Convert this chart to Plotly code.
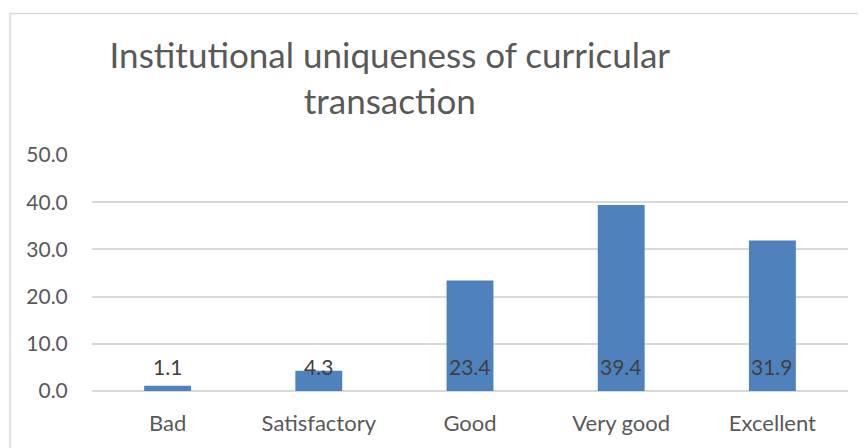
import plotly.graph_objects as go

categories = ["Bad", "Satisfactory", "Good", "Very good", "Excellent"]
values = [1.1, 4.3, 23.4, 39.4, 31.9]
y_ticks = [0, 10, 20, 30, 40, 50]
y_tick_labels = ["0.0", "10.0", "20.0", "30.0", "40.0", "50.0"]

font_family = "Lato, 'Open Sans', sans-serif"
text_color = "#595959"

fig = go.Figure(go.Bar(x=categories, y=values, width=0.31, marker=dict(color="#4F81BD", line=dict(width=0)),
                       showlegend=False, hoverinfo="x+y"))

# data labels all sit at the same height near the base, like the original
for cat, val in zip(categories, values):
    fig.add_annotation(x=cat, y=0, text=f"{val:.1f}", showarrow=False, yanchor="middle", yshift=25,
                       font=dict(family=font_family, size=21, color="#404040"))

# outer chart frame
fig.add_shape(type="rect", xref="paper", yref="paper", x0=-0.1085, x1=1.0185, y0=-0.4, y1=1.6,
              line=dict(color="#D9D9D9", width=1.5), fillcolor="rgba(0,0,0,0)", layer="below")

# page body has an 8px margin, so the figure is a little smaller and margins are shifted
fig.update_layout(
    width=858, height=440,
    margin=dict(l=84, r=18, t=147, b=57),
    paper_bgcolor="white", plot_bgcolor="white",
    title=dict(text="Institutional uniqueness of curricular<br>transaction", xref="container", x=0.445,
               xanchor="center", yref="container", y=1 - 60 / 440, yanchor="top",
               font=dict(family=font_family, size=35, color=text_color)),
    xaxis=dict(showgrid=False, showline=False, ticks="outside", ticklen=13, tickcolor="white",
               tickfont=dict(family=font_family, size=22, color=text_color)),
    yaxis=dict(range=[0, 50], tickvals=y_ticks, ticktext=y_tick_labels, showgrid=True, gridcolor="#D9D9D9",
               gridwidth=1.5, zeroline=True, zerolinecolor="#D9D9D9", zerolinewidth=1.5, showline=False,
               ticks="outside", ticklen=19, tickcolor="white",
               tickfont=dict(family=font_family, size=21, color=text_color)),
    bargap=0.69,
)

fig.write_html("out.html")
